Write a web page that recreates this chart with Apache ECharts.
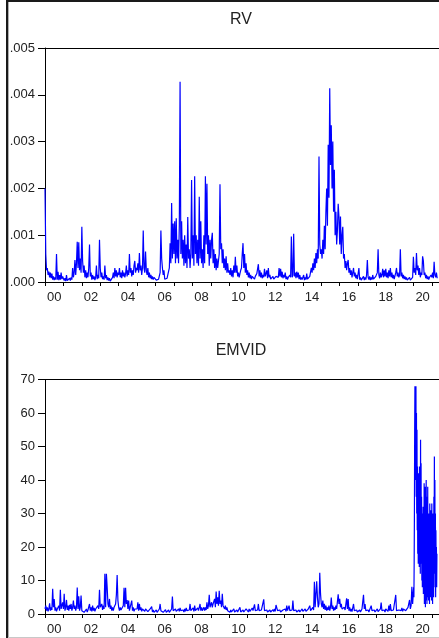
<!DOCTYPE html>
<html>
<head>
<meta charset="utf-8">
<script src="https://cdn.jsdelivr.net/npm/echarts@6/dist/echarts.min.js"></script>
<style>
html,body{margin:0;padding:0;background:#fff;}
#main{width:439px;height:638px;}
</style>
</head>
<body>
<div id="main"></div>
<script>
// semi-monthly samples (24 per year) starting Jan 2000
var startYear = 2000;
var perYear = 24;

// RV, one row per year
var rvValues = [
.002,.0006,.00025,.0003,.00015,.00022,.0001,.0002,.00008,.00018,.00005,.00012,.00004,.0001,.00005,.0006,.00005,.00022,.00004,.00015,.00005,.0002,.00006,.00012, // 2000
.0001,.00003,.00008,.00002,.00015,.00003,.00006,.00002,.00008,.00003,.0001,.00005,.0003,.0001,.0002,.00047,.00015,.0004,.00086,.0003,.00085,.00025,.0005,.0002, // 2001
.00118,.00045,.0002,.00035,.0001,.00025,.00008,.0002,.0001,.0003,.0008,.00012,.0002,.00005,.00015,.00006,.00012,.00004,.0001,.00035,.00006,.00015,.00008,.0009, // 2002
.0003,.0001,.0002,.00006,.00012,.00005,.00035,.00008,.00015,.00004,.0001,.00003,.00008,.00002,.00006,.00003,.0001,.0002,.00008,.0003,.00012,.00025,.0001,.0002, // 2003
.00015,.0003,.0001,.0002,.00008,.00025,.00012,.0002,.0001,.00018,.00035,.00012,.00025,.00015,.0006,.0002,.0003,.00012,.00025,.00015,.00035,.00045,.0002,.0003, // 2004
.00025,.0004,.0002,.00062,.00025,.00035,.00015,.0003,.0011,.0003,.0002,.00065,.00025,.00015,.0003,.0001,.0002,.00008,.00015,.00006,.00012,.00005,.0001,.00006, // 2005
.0001,.00004,.00008,.00003,.00006,.0001,.0002,.0011,.0005,.0003,.00015,.00025,.00006,.0001,.00004,.00008,.00005,.0001,.0003,.00083,.0004,.00169,.0005,.00125, // 2006
.0006,.0013,.0004,.00136,.0005,.0009,.0004,.0012,.00428,.0006,.0013,.0005,.0009,.00035,.001,.0004,.0008,.0003,.00139,.0005,.0007,.0003,.0006,.00218, // 2007
.0005,.001,.00035,.00226,.0006,.001,.0004,.0009,.00035,.00182,.0005,.0013,.0004,.0007,.0003,.001,.0004,.00226,.0008,.0021,.0006,.001,.00035,.0009, // 2008
.0005,.0009,.00105,.0004,.0007,.0003,.0006,.00025,.0005,.0003,.00045,.0006,.00209,.0007,.00083,.0004,.0007,.0003,.0005,.00025,.00055,.0002,.0004,.0002, // 2009
.00025,.00015,.0003,.00012,.00025,.0001,.00035,.0002,.00054,.0002,.00035,.00012,.0002,.0001,.00018,.00025,.0003,.0006,.00083,.0003,.0006,.0002,.0004,.00015, // 2010
.00025,.0001,.0002,.00008,.00015,.00006,.00012,.00008,.00015,.00006,.00012,.0001,.00018,.00015,.00038,.00012,.00025,.0001,.0002,.00008,.00015,.0001,.00028,.00012, // 2011
.0001,.00025,.00008,.0003,.0001,.00015,.00006,.0001,.00005,.00012,.00006,.0001,.00005,.00012,.00008,.00015,.0001,.0003,.00012,.00028,.0001,.00022,.00008,.00015, // 2012
.0001,.0002,.00006,.00012,.00005,.0001,.00006,.00015,.0001,.00097,.0001,.00015,.00103,.00012,.0002,.00008,.00022,.0001,.0002,.00006,.00015,.00005,.0001,.00005, // 2013
.00005,.00015,.00004,.0001,.00005,.00018,.00006,.0001,.00005,.00012,.00015,.0003,.0002,.0004,.00025,.0005,.0003,.00062,.0004,.0007,.0005,.00268,.0008,.0006, // 2014
.0007,.0005,.0009,.0006,.0012,.0007,.0015,.002,.0012,.00293,.0018,.00414,.0025,.00335,.002,.003,.0015,.0024,.001,.0015,.0008,.0011,.00167,.0014, // 2015
.0008,.0014,.0006,.001,.00118,.0005,.0006,.0003,.00045,.00025,.0004,.00047,.0002,.0003,.00015,.00025,.0001,.0002,.0003,.00012,.0002,.00008,.00015,.00006, // 2016
.0001,.0003,.00005,.0001,.00004,.00008,.00005,.00012,.00004,.0001,.00005,.00015,.00047,.0001,.00005,.00012,.00004,.0001,.00005,.00015,.00006,.0001,.00004,.00012, // 2017
.00015,.0002,.0007,.00015,.00008,.0002,.0001,.00015,.00028,.0001,.00025,.00012,.00028,.0001,.0002,.00008,.00025,.00012,.0003,.0001,.0002,.00008,.00015,.00006, // 2018
.0001,.0002,.0003,.00012,.0002,.0001,.00015,.0007,.00012,.0002,.00008,.00015,.00006,.00012,.00005,.0001,.00004,.00008,.00005,.0001,.00004,.00008,.00005,.0001, // 2019
.00054,.0002,.0003,.00015,.00062,.00025,.00035,.00015,.0003,.0001,.0002,.00015,.00055,.00045,.00015,.0002,.00008,.00015,.00006,.00012,.00005,.0001,.00006,.00015, // 2020
.0001,.0002,.00008,.00043,.00015,.0001,.0002,.00008 // 2021
];

// EMVID 2000-2019, one row per year
var emvidValues = [
1.5,2.5,1,2,0.8,1.5,3.2,1,2,1.2,7.5,2,4.5,1,2,0.8,1.5,1,2.5,1,7.2,1.5,2,3.5, // 2000
1.5,6,1,2,4.2,1.2,2.5,1,2.7,1.5,3,1,2,4,1.5,2.5,1,2,7.9,1.5,5.3,1,2,5.5, // 2001
1,0.6,1.2,0.5,1,0.7,1.5,0.6,1.2,1,3,1,2,0.8,2.5,1,1.8,0.8,1.5,2,1,2.5,1.5,7.2, // 2002
2,1.5,3,1.2,2.5,1.5,12,2,12,8,3,2,4.5,1.5,2.5,1,2,1,2,1.5,3,5.7,11.6,4, // 2003
2,1,2,1.2,1.5,1,2.5,7.8,2,7.8,3,4.2,1.5,4,1,1.5,0.8,4,1,2,0.8,1.5,1,2, // 2004
1.5,3.5,1,3,1.2,2,0.8,1.5,1,2,0.8,1.5,1,1.8,0.7,1.2,0.8,1.5,1,2.2,0.6,1.2,0.5,1, // 2005
0.8,1.2,0.5,1,0.6,1.5,3,1,0.6,1.2,0.5,1,0.6,1.3,0.5,1,0.6,1.2,0.5,1,0.8,1.5,5.2,1, // 2006
1.2,0.6,1.5,0.8,1.2,0.6,1.5,0.8,1.8,1,1.5,0.7,1.2,0.6,1.5,0.8,1.8,1,1.5,0.8,1.2,3,1,1.5, // 2007
1,1.8,0.8,2.5,1,1.5,0.8,1.8,1,2,3,1,2,1,1.5,2,1,2,1.2,3.5,1.5,2.5,5.7,2, // 2008
2,3.5,2,3,2.5,4.5,2,6.7,3,5,2.5,6.9,3,4,2,6,2.5,3,1.5,2.5,1.2,2,1,1.5, // 2009
1,0.5,1.2,0.6,1,0.5,1.5,0.6,1,0.5,1.2,0.6,1,0.8,2,0.6,1,0.5,1.2,0.6,1,0.8,1.5,2, // 2010
1,0.6,1.5,0.8,1.2,0.6,1.8,1,1.5,2.9,1,1.5,0.8,1.2,3,1,1.5,0.7,1.2,0.8,1.5,4.4,1,1.2, // 2011
0.8,1.2,0.6,1,0.5,1.2,0.6,1,0.5,1.3,0.7,1.5,0.8,2.7,3,1,1.5,0.7,1.2,0.6,1,0.5,1.2,0.8, // 2012
1,1.5,0.8,2.5,1,1.5,2.5,1,1.5,0.8,1.2,4,1,1.5,0.7,1.2,0.6,1,0.5,1.2,0.6,1,0.8,1.5, // 2013
0.8,1.2,0.6,1.5,0.8,1.2,0.6,1.5,1,2.5,1,1.5,0.8,2,1.2,9.6,2,2.5,9.8,5,2,3,12.3,6, // 2014
3,2,4,1.5,3,1.2,2.5,1,2,1.2,2.5,1,2,4.9,1.5,2.5,1,2,1.2,2.5,1.5,2,5.9,3, // 2015
4.5,2,3,1.5,2,1,2,1.2,1.5,4.7,1.5,4.5,1,2,0.8,1.5,0.7,1.2,3,1,1.5,0.7,1.2,0.6, // 2016
1,0.6,1.2,0.6,1,1.5,1,5.7,1.5,3,1,1.5,0.7,1.2,0.6,1,0.8,2.5,1,1.5,0.7,1.2,0.6,1, // 2017
1,1.5,0.7,1.2,1,1.5,3.4,1,1.5,0.8,1.2,0.6,1.5,1,1.8,0.8,2.5,1,3,1,1.5,0.7,1.2,1, // 2018
1.5,5.7,1,1.5,0.8,1.2,0.7,1.5,1,1.8,0.8,1.5,1,2,1,1.5,1.2,2,1.5,4.2,1.5,2.5,8.1,3 // 2019
];

// EMVID from Jan 2020 on, denser: 72 samples per year
var recentStart = 2020;
var recentPerYear = 72;
var emvidRecent = [
3,8,5,15,30,55,
68,40,67,50,68,35,60,30,55,25,
44,18,40,15,42,20,38,14,44,18,
38,12,52,20,45,15,
35,10,30,8,28,12,32,6,25,10,
39,3,30,5,38,2,25,6,40,4,35,3,28,8,38,5,22,
4,30,6,25,3,33,8,28,5,31,7,
20,4,33,10,28,3,30,8,22,5,35,12,47,15,40,8,30,5,25,12,20,8,18
];

// tick marks at each year start, labels every other year
var tickYears = [2000,2001,2002,2003,2004,2005,2006,2007,2008,2009,2010,2011,2012,2013,2014,2015,2016,2017,2018,2019,2020,2021];
var labelYears = [2000,2002,2004,2006,2008,2010,2012,2014,2016,2018,2020];

var xMin = 2000, xMax = 2021.39;
var fontName = 'Liberation Sans, Arial, sans-serif';
var blue = '#0000ff';

function toPoints(vals, from, step){
	return vals.map(function(v, i){ return [from + i / step, v]; });
}

function bottomAxis(gi){
	return {
		type: 'value', gridIndex: gi, min: xMin, max: xMax,
		axisLine: { lineStyle: { color: '#000', width: 1 } },
		axisTick: { show: true, length: 4, inside: false, customValues: tickYears, lineStyle: { color: '#000' } },
		axisLabel: {
			margin: 9, fontSize: 13, color: '#222', fontFamily: fontName,
			// label sits in the middle of its year
			customValues: labelYears.map(function(y){ return y + 0.5; }),
			formatter: function(v){
				var y = Math.floor(v) % 100;
				return (y < 10 ? '0' : '') + y;
			}
		},
		splitLine: { show: false }
	};
}

function topLine(gi){
	return {
		type: 'value', gridIndex: gi, position: 'top', min: xMin, max: xMax,
		axisLine: { lineStyle: { color: '#000', width: 1 } },
		axisTick: { show: false }, axisLabel: { show: false }, splitLine: { show: false }
	};
}

var emvidPoints = toPoints(emvidValues, startYear, perYear).concat(toPoints(emvidRecent, recentStart, recentPerYear));

var chart = echarts.init(document.getElementById('main'), null, { renderer: 'canvas' });
var option = {
	animation: false,
	backgroundColor: '#fff',
	title: [
		{ text: 'RV', left: 241, top: 12, textAlign: 'center', padding: 0,
		  textStyle: { fontFamily: fontName, fontSize: 16, fontWeight: 'normal', color: '#222' } },
		{ text: 'EMVID', left: 241, top: 343, textAlign: 'center', padding: 0,
		  textStyle: { fontFamily: fontName, fontSize: 16, fontWeight: 'normal', color: '#222' } }
	],
	grid: [
		{ left: 45, top: 48, right: 0, height: 234 },
		{ left: 45, top: 379.5, right: 0, height: 234.5 }
	],
	xAxis: [bottomAxis(0), topLine(0), bottomAxis(1), topLine(1)],
	yAxis: [
		{
			type: 'value', gridIndex: 0, min: 0, max: 0.005, interval: 0.001,
			axisLine: { show: true, lineStyle: { color: '#000' } },
			axisTick: { show: true, length: 7, lineStyle: { color: '#000' } },
			axisLabel: { margin: 10, fontSize: 13, color: '#222', fontFamily: fontName,
				formatter: function(v){ return v.toFixed(3).slice(1); } },
			splitLine: { show: false }
		},
		{
			type: 'value', gridIndex: 1, min: 0, max: 70, interval: 10,
			axisLine: { show: true, lineStyle: { color: '#000' } },
			axisTick: { show: true, length: 7, lineStyle: { color: '#000' } },
			axisLabel: { margin: 10, fontSize: 13, color: '#222', fontFamily: fontName },
			splitLine: { show: false }
		}
	],
	series: [
		{ name: 'RV', type: 'line', xAxisIndex: 0, yAxisIndex: 0, data: toPoints(rvValues, startYear, perYear),
		  showSymbol: false, lineStyle: { color: blue, width: 1.2 }, itemStyle: { color: blue } },
		{ name: 'EMVID', type: 'line', xAxisIndex: 2, yAxisIndex: 1, data: emvidPoints,
		  showSymbol: false, lineStyle: { color: blue, width: 1.2 }, itemStyle: { color: blue } }
	],
	graphic: [
		{ type: 'rect', silent: true, shape: { x: 6, y: 0, width: 2, height: 638 }, style: { fill: '#1a1a1a' } },
		{ type: 'rect', silent: true, shape: { x: 8, y: 0, width: 1, height: 638 }, style: { fill: '#b0b0b0' } },
		{ type: 'rect', silent: true, shape: { x: 6, y: 0, width: 433, height: 2 }, style: { fill: '#1a1a1a' } },
		{ type: 'rect', silent: true, shape: { x: 8, y: 637, width: 431, height: 1 }, style: { fill: '#c8c8c8' } }
	]
};
chart.setOption(option);
</script>
</body>
</html>
